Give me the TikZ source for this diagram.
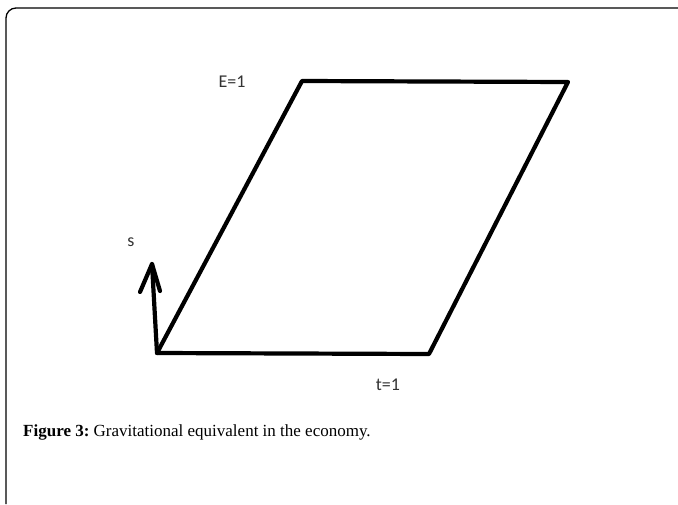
\documentclass[tikz,border=0pt]{standalone}
\usepackage{fontspec}
\setmainfont{Liberation Serif}
\newfontfamily\lblfont{Carlito}
\frenchspacing
\begin{document}
\begin{tikzpicture}[x=1pt,y=-1pt,
  edge/.style={line width=4.2pt,line cap=round,line join=round},
  lbl/.style={font=\lblfont\fontsize{18}{20}\selectfont,text=black!80,inner sep=0pt},
  frame/.style={line width=1.3pt}]
\useasboundingbox (0,0) rectangle (678,504);
\draw[frame] (6,504) -- (6,18) arc[start angle=180,end angle=270,radius=10] -- (678,8);
\coordinate (A) at (157,353);
\coordinate (B) at (429,354);
\coordinate (C) at (568,82);
\coordinate (D) at (302,81);
\draw[edge] (A) -- (B) -- (C) -- (D) -- cycle;
\coordinate (S) at (152,264);
\coordinate (L) at (140,292);
\coordinate (R) at (160,291);
\draw[edge] (A) -- (S);
\draw[edge] (L) -- (S) -- (R);
\node[lbl] (e) at (232,82) {E=1};
\node[lbl] (s) at (131,242) {s};
\node[lbl] (t) at (388,385) {t=1};
\node[anchor=west,inner sep=0pt,font=\fontsize{17}{20}\selectfont] (cap) at (23,432) {\textbf{Figure 3:} Gravitational equivalent in the economy.};
\end{tikzpicture}
\end{document}
